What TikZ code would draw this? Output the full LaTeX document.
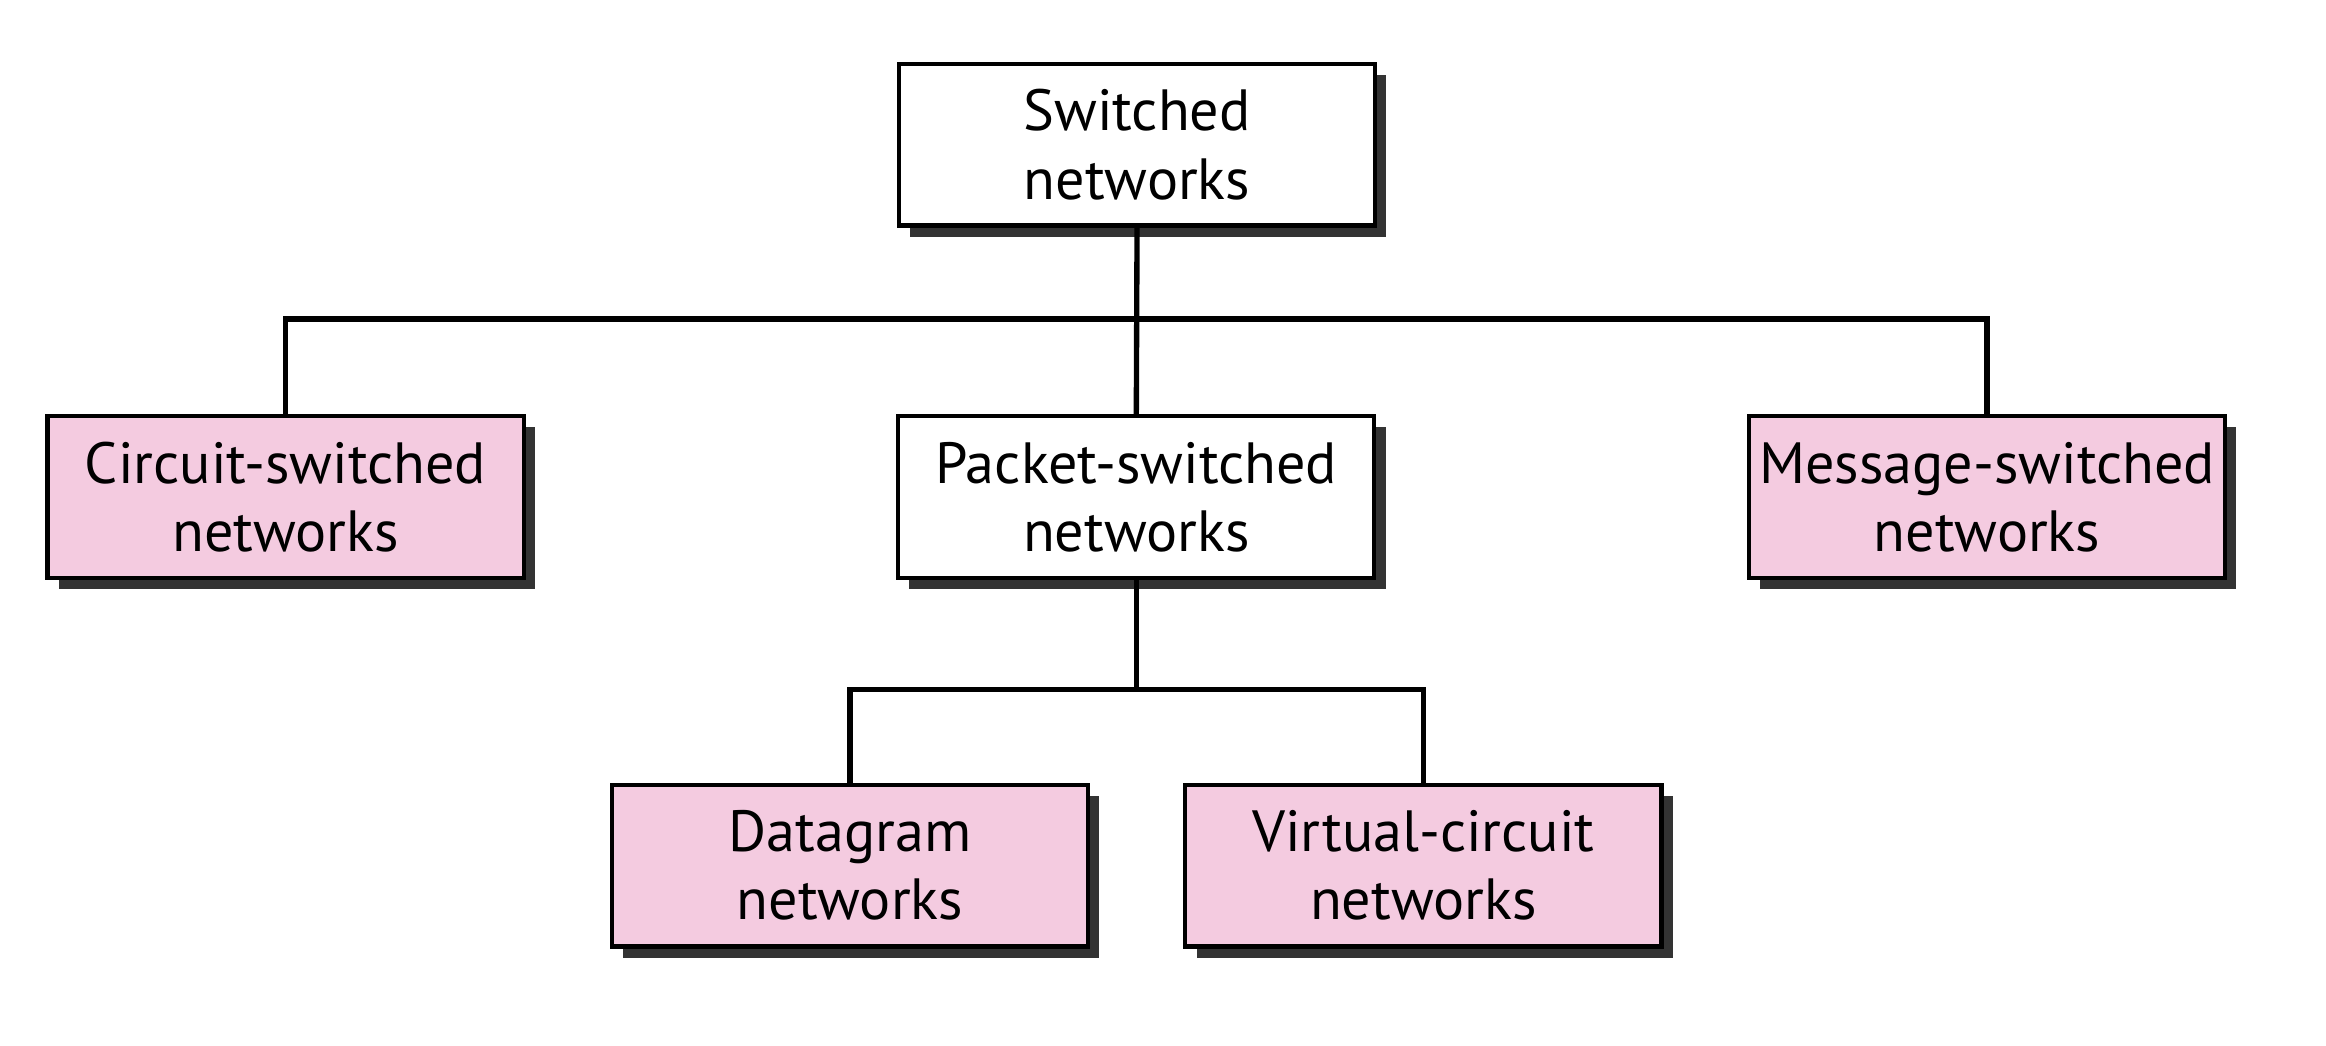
\documentclass[tikz,border=0pt]{standalone}
\usepackage{fontspec}
\setmainfont{PT Sans}
\usetikzlibrary{shadows}
\definecolor{boxpink}{HTML}{F4CBE0}
\definecolor{shadowgray}{HTML}{333333}
\begin{document}
\begin{tikzpicture}[x=0.5pt,y=-0.5pt,
  netbox/.style={draw=black, line width=1.4pt, fill=white, align=center,
    inner sep=0pt, minimum width=160.5pt, minimum height=54.5pt,
    font=\fontsize{19.6}{23}\selectfont,
    drop shadow={shadow xshift=3.8pt, shadow yshift=-3.8pt, fill=shadowgray, opacity=1}},
  pinkbox/.style={netbox, fill=boxpink},
  conn/.style={line width=1.8pt, line join=miter}]
\useasboundingbox (0,0) rectangle (1568,705);
\node[netbox]  (top)      at (766.5,97.5) {Switched\\networks};
\node[pinkbox] (circuit)  at (192.5,335)  {Circuit-switched\\networks};
\node[netbox]  (packet)   at (766,335)    {Packet-switched\\networks};
\node[pinkbox] (message)  at (1339.5,335) {Message-switched\\networks};
\node[pinkbox] (datagram) at (573,583.5)  {Datagram\\networks};
\node[pinkbox] (virtual)  at (959.5,583.5){Virtual-circuit\\networks};
\coordinate (j1) at (766,215);
\coordinate (j2) at (766,465);
\draw[conn] (top.south) -- (packet.north);
\draw[conn] (circuit.north) |- (j1) -| (message.north);
\draw[conn] (packet.south) -- (j2);
\draw[conn] (datagram.north) |- (j2) -| (virtual.north);
\end{tikzpicture}
\end{document}
